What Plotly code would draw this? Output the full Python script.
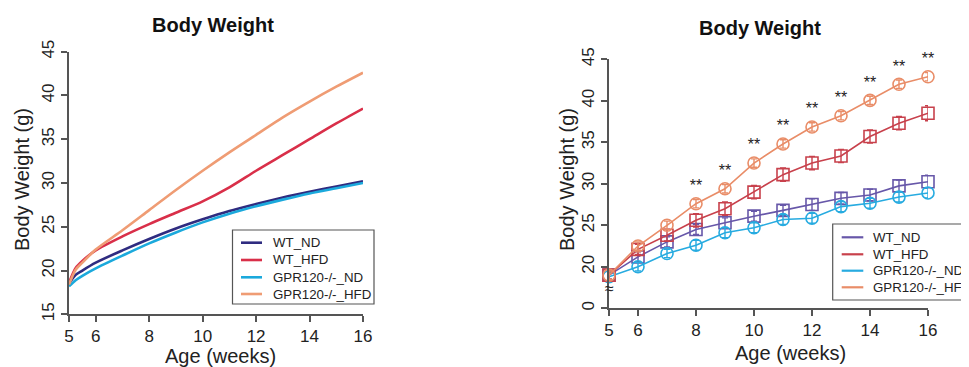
import plotly.graph_objects as go

# ---------------- data ----------------
series_names = ["WT_ND", "WT_HFD", "GPR120-/-_ND", "GPR120-/-_HFD"]

# left panel: fitted growth curves
fit_weeks = [5, 5.25, 5.5, 6, 7, 8, 9, 10, 11, 12, 13, 14, 15, 16]
fit_wt_nd = [18.5, 19.5, 20.0, 20.9, 22.3, 23.6, 24.8, 25.85, 26.8, 27.6, 28.35, 29.0, 29.6, 30.2]
fit_wt_hfd = [18.6, 20.3, 21.1, 22.3, 23.9, 25.3, 26.6, 27.9, 29.5, 31.4, 33.2, 35.0, 36.8, 38.5]
fit_ko_nd = [18.2, 18.9, 19.4, 20.25, 21.7, 23.1, 24.35, 25.5, 26.5, 27.35, 28.1, 28.8, 29.4, 30.0]
fit_ko_hfd = [18.4, 20.1, 20.9, 22.4, 24.6, 26.9, 29.2, 31.4, 33.5, 35.5, 37.5, 39.3, 41.0, 42.6]

# right panel: measured means with error
weeks = [5, 6, 7, 8, 9, 10, 11, 12, 13, 14, 15, 16]
wt_nd = [19.0, 21.2, 23.0, 24.5, 25.3, 26.1, 26.8, 27.5, 28.25, 28.65, 29.75, 30.25]
wt_hfd = [19.0, 22.1, 23.8, 25.6, 27.0, 29.0, 31.1, 32.5, 33.35, 35.7, 37.3, 38.5]
ko_nd = [18.8, 20.0, 21.6, 22.6, 24.1, 24.7, 25.7, 25.85, 27.25, 27.65, 28.4, 28.9]
ko_hfd = [19.0, 22.5, 25.0, 27.6, 29.4, 32.5, 34.8, 36.85, 38.2, 40.05, 42.0, 42.9]
err_wt_nd = [0.5, 0.6, 0.6, 0.6, 0.6, 0.6, 0.6, 0.7, 0.7, 0.7, 0.7, 0.8]
err_wt_hfd = [0.5, 0.6, 0.7, 0.8, 0.8, 0.8, 0.8, 0.8, 0.8, 0.8, 0.8, 0.9]
err_ko_nd = [0.5, 0.5, 0.5, 0.6, 0.6, 0.6, 0.6, 0.6, 0.6, 0.6, 0.6, 0.6]
err_ko_hfd = [0.5, 0.5, 0.5, 0.5, 0.5, 0.5, 0.5, 0.5, 0.5, 0.5, 0.5, 0.5]
star_weeks = [8, 9, 10, 11, 12, 13, 14, 15, 16]
star_text = "**"

left_xticks = [5, 6, 8, 10, 12, 14, 16]
right_xticks = [5, 6, 8, 10, 12, 14, 16]
left_yticks = [15, 20, 25, 30, 35, 40, 45]
right_yticks = [15, 20, 25, 30, 35, 40, 45]
right_yticktext = ["0", "20", "25", "30", "35", "40", "45"]

left_colors = ["#2f2c80", "#d92f49", "#1ba9dc", "#ef9c74"]
right_colors = ["#6757a9", "#c8414c", "#27abe0", "#e98d68"]

FONT = "Liberation Sans, Arial, Helvetica, sans-serif"

# page is rendered with an 8px body margin: size figure so it fills the window
OFF = 8
W, H = 969 - OFF, 367 - OFF


def px(p):
    return (p - OFF) / W


def py(p):
    return 1 - (p - OFF) / H


fig = go.Figure()

# ---------------- left panel ----------------
for name, ys, col in zip(series_names, [fit_wt_nd, fit_wt_hfd, fit_ko_nd, fit_ko_hfd], left_colors):
    fig.add_trace(go.Scatter(x=fit_weeks, y=ys, mode="lines", name=name, showlegend=False,
                             line=dict(color=col, width=2.6, shape="spline", smoothing=0.8),
                             xaxis="x", yaxis="y"))

# ---------------- right panel ----------------
right_series = [
    (series_names[0], wt_nd, err_wt_nd, right_colors[0], "square-open"),
    (series_names[2], ko_nd, err_ko_nd, right_colors[2], "circle-open"),
    (series_names[1], wt_hfd, err_wt_hfd, right_colors[1], "square-open"),
    (series_names[3], ko_hfd, err_ko_hfd, right_colors[3], "circle-open"),
]
for name, ys, es, col, sym in right_series:
    fig.add_trace(go.Scatter(x=weeks, y=ys, mode="lines+markers", name=name, showlegend=False,
                             line=dict(color=col, width=1.6),
                             marker=dict(symbol=sym, size=12, color=col, line=dict(color=col, width=1.6)),
                             error_y=dict(type="data", array=es, color=col, thickness=1.4, width=3),
                             cliponaxis=False, xaxis="x2", yaxis="y2"))

# significance stars above GPR120-/-_HFD
star_y = [ko_hfd[weeks.index(w)] + 2.0 for w in star_weeks]
fig.add_trace(go.Scatter(x=star_weeks, y=star_y, mode="text", text=[star_text] * len(star_weeks),
                         textfont=dict(family=FONT, size=16, color="#222"), showlegend=False,
                         cliponaxis=False, xaxis="x2", yaxis="y2", hoverinfo="skip"))

# ---------------- axes ----------------
axis_common = dict(showline=True, linecolor="#555", linewidth=1.5, ticks="outside", ticklen=6,
                   tickwidth=1.5, tickcolor="#555", showgrid=False, zeroline=False,
                   tickfont=dict(family=FONT, size=17, color="#222"))

fig.update_layout(
    width=W, height=H,
    margin=dict(l=0, r=0, t=0, b=0, autoexpand=False),
    paper_bgcolor="white", plot_bgcolor="white",
    showlegend=False,
    xaxis=dict(domain=[px(69), px(363)], range=[5, 16], tickvals=left_xticks, anchor="y", **axis_common),
    yaxis=dict(domain=[py(314.3), py(51.7)], range=[15, 45], tickvals=left_yticks,
               tickangle=-90, anchor="x", **axis_common),
    xaxis2=dict(domain=[px(609), px(928)], range=[5, 16], tickvals=right_xticks, anchor="y2", **axis_common),
    yaxis2=dict(domain=[py(308.3), py(59.3)], range=[15, 45], tickvals=right_yticks,
                ticktext=right_yticktext, tickangle=-90, anchor="x2", **axis_common),
)

ann = []
shapes = []
# titles
for xt, yt in [(213, 25), (760, 28)]:
    ann.append(dict(text="<b>Body Weight</b>", x=px(xt), y=py(yt), xref="paper", yref="paper",
                    xanchor="center", yanchor="middle", showarrow=False,
                    font=dict(family=FONT, size=20, color="#111")))
# axis titles
for xt, yt in [(220, 356), (790, 353)]:
    ann.append(dict(text="Age (weeks)", x=px(xt), y=py(yt), xref="paper", yref="paper",
                    xanchor="center", yanchor="middle",
                    showarrow=False, font=dict(family=FONT, size=20, color="#222")))
for xt in [22, 567]:
    ann.append(dict(text="Body Weight (g)", x=px(xt), y=py(180), xref="paper", yref="paper",
                    xanchor="center", yanchor="middle",
                    showarrow=False, textangle=-90, font=dict(family=FONT, size=20, color="#222")))
# axis break mark
ann.append(dict(text="≈", x=5, y=17.4, xref="x2", yref="y2", showarrow=False,
                xanchor="center", yanchor="middle", font=dict(family=FONT, size=16, color="#222")))


# legends (drawn as boxes with line samples and labels)
def add_legend(box, line_x, text_x, item_ys, colors, lw):
    x0, y0, x1, y1 = box
    shapes.append(dict(type="rect", xref="paper", yref="paper", x0=px(x0), x1=px(x1),
                       y0=py(y1), y1=py(y0), line=dict(color="#555", width=1.2), fillcolor="white"))
    for name, col, yy in zip(series_names, colors, item_ys):
        shapes.append(dict(type="line", xref="paper", yref="paper", x0=px(line_x[0]), x1=px(line_x[1]),
                           y0=py(yy), y1=py(yy), line=dict(color=col, width=lw)))
        ann.append(dict(text=name, x=px(text_x), y=py(yy), xref="paper", yref="paper",
                        xanchor="left", yanchor="middle", showarrow=False,
                        font=dict(family=FONT, size=13.3, color="#222")))


add_legend((232.5, 230, 374, 304), (241, 262), 270.5, [242.7, 260, 277.3, 294], left_colors, 2.6)
add_legend((832.7, 224, 990, 300), (841.7, 863.3), 871, [237.3, 254.3, 270.7, 287.3], right_colors, 2.2)

fig.update_layout(annotations=ann, shapes=shapes)

fig.write_html("out.html")
